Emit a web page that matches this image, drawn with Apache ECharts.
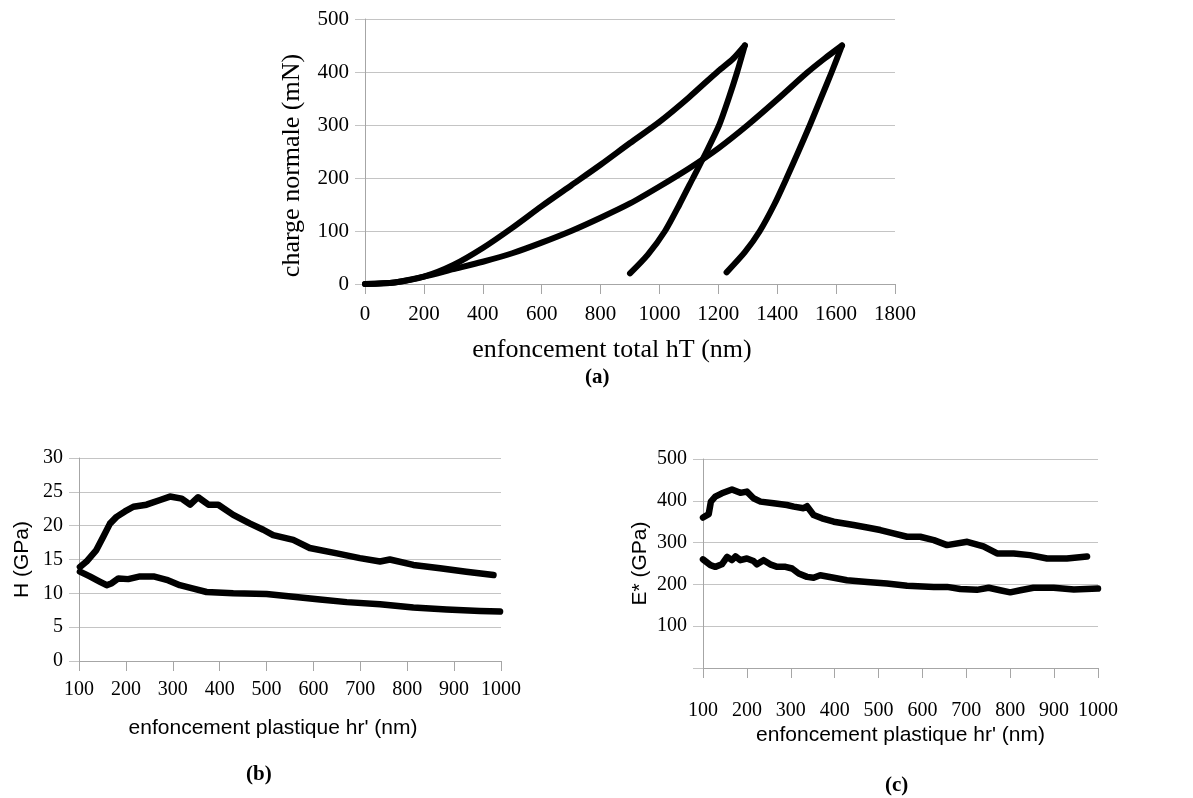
<!DOCTYPE html>
<html>
<head>
<meta charset="utf-8">
<script src="https://cdn.jsdelivr.net/npm/echarts@6/dist/echarts.min.js"></script>
<style>
  html, body { margin: 0; padding: 0; background: #fff; }
  #chart { width: 1193px; height: 798px; }
</style>
</head>
<body>
<div id="chart"></div>
<script>
// (a) charge normale vs enfoncement total : [hT (nm), P (mN)]
const load1 = [[0,0],[100,3],[200,14],[300,36],[400,68],[500,106],[600,147],[700,186],[800,225],[900,266],[1000,306],[1100,352],[1200,402],[1250,425],[1290,450]];
const unload1 = [[1290,450],[1264,400],[1235,350],[1203,300],[1160,250],[1114,200],[1068,150],[1019,100],[960,55],[900,20]];
const load2 = [[0,0],[100,3],[200,14],[300,28],[400,42],[500,58],[600,78],[700,100],[800,125],[900,152],[1000,184],[1100,218],[1200,256],[1300,300],[1400,348],[1500,398],[1560,425],[1620,450]];
const unload2 = [[1620,450],[1585,400],[1548,350],[1511,300],[1472,250],[1432,200],[1390,150],[1341,100],[1290,60],[1228,22]];

// (b) H (GPa) vs hr' (nm)
const hUpper = [[102,13.9],[116,14.7],[137,16.4],[152,18.4],[166,20.3],[180,21.3],[198,22.1],[216,22.8],[244,23.1],[273,23.8],[294,24.3],[319,24.0],[337,23.1],[354,24.2],[376,23.1],[397,23.1],[429,21.6],[465,20.3],[493,19.4],[514,18.6],[557,17.9],[592,16.7],[650,15.9],[699,15.2],[742,14.7],[763,15.0],[813,14.2],[870,13.7],[926,13.2],[984,12.7]];
const hLower = [[102,13.2],[123,12.5],[145,11.7],[159,11.2],[170,11.5],[184,12.2],[205,12.1],[230,12.5],[259,12.5],[287,12.0],[315,11.2],[344,10.7],[372,10.2],[429,10.0],[500,9.9],[557,9.5],[614,9.1],[671,8.7],[742,8.4],[813,7.9],[884,7.6],[955,7.4],[998,7.3]];

// (c) E* (GPa) vs hr' (nm)
const eUpper = [[100,360],[113,368],[118,398],[128,410],[143,418],[166,427],[185,419],[200,422],[215,406],[231,398],[261,394],[291,390],[307,386],[329,382],[337,387],[352,366],[371,358],[398,350],[443,342],[474,336],[504,330],[534,322],[565,314],[595,314],[626,306],[656,294],[702,302],[739,291],[770,274],[808,274],[845,270],[884,262],[929,262],[975,267]];
const eLower = [[100,260],[117,246],[128,242],[143,248],[155,266],[166,258],[174,267],[185,258],[200,262],[215,256],[223,248],[238,258],[253,248],[269,242],[288,242],[303,238],[318,226],[337,218],[352,216],[367,222],[398,216],[428,210],[474,206],[519,202],[565,197],[626,194],[656,194],[686,189],[724,187],[751,192],[777,186],[800,181],[823,186],[853,192],[899,192],[945,188],[1000,190]];

const serif = 'Liberation Serif';
const sans = 'Liberation Sans';
const gridGray = '#c4c4c4';
const axisGray = '#a6a6a6';

function xAx(gridIndex, min, max, interval, name, fontFamily, nameSize, labelSize, nameGap, margin, shift) {
  return {
    type: 'value', gridIndex, min, max, interval,
    name, nameLocation: 'middle', nameGap,
    nameTextStyle: { fontFamily, fontSize: nameSize, color: '#000', padding: [0, shift, 0, 0] },
    axisLine: { show: true, lineStyle: { color: axisGray, width: 1 } },
    axisTick: { show: true, length: 10, lineStyle: { color: axisGray } },
    axisLabel: { fontFamily: serif, fontSize: labelSize, color: '#000', margin, formatter: v => String(v) },
    splitLine: { show: false }
  };
}
function yAx(gridIndex, min, max, interval, name, fontFamily, nameSize, labelSize, nameGap, hideZero, shift) {
  return {
    type: 'value', gridIndex, min, max, interval,
    name, nameLocation: 'middle', nameGap, nameRotate: 90,
    nameTextStyle: { fontFamily, fontSize: nameSize, color: '#000', padding: [0, shift, 0, 0] },
    axisLine: { show: true, lineStyle: { color: axisGray, width: 1 } },
    axisTick: { show: true, length: 10, lineStyle: { color: gridGray } },
    axisLabel: {
      fontFamily: serif, fontSize: labelSize, color: '#000', margin: 16,
      formatter: v => (hideZero && v === 0) ? '' : String(v)
    },
    splitLine: { show: true, lineStyle: { color: gridGray, width: 1 } }
  };
}
function curve(data, xi, smooth, width) {
  return {
    type: 'line', data, xAxisIndex: xi, yAxisIndex: xi,
    showSymbol: false, smooth, silent: true,
    lineStyle: { color: '#000', width, cap: 'round', join: 'round' }
  };
}

const chart = echarts.init(document.getElementById('chart'));
chart.setOption({
  animation: false,
  backgroundColor: '#fff',
  grid: [
    { left: 365, right: 298, top: 19, bottom: 514 },
    { left: 79, right: 692, top: 458, bottom: 137 },
    { left: 703, right: 95, top: 459, bottom: 130 }
  ],
  xAxis: [
    xAx(0, 0, 1800, 200, 'enfoncement total hT (nm)', serif, 26, 21, 53, 20, 36),
    xAx(1, 100, 1000, 100, "enfoncement plastique hr' (nm)", sans, 21, 20, 57, 19, 34),
    xAx(2, 100, 1000, 100, "enfoncement plastique hr' (nm)", sans, 21, 20, 57, 33, 0)
  ],
  yAxis: [
    yAx(0, 0, 500, 100, 'charge normale (mN)', serif, 26, 21, 60, false, 28),
    yAx(1, 0, 30, 5, 'H (GPa)', sans, 21, 20, 46, false, 0),
    yAx(2, 0, 500, 100, 'E* (GPa)', sans, 21, 20, 52, true, 0)
  ],
  series: [
    curve(load1, 0, 0.25, 6),
    curve(unload1, 0, 0.25, 6),
    curve(load2, 0, 0.25, 6),
    curve(unload2, 0, 0.25, 6),
    curve(hUpper, 1, false, 6.5),
    curve(hLower, 1, false, 6.5),
    curve(eUpper, 2, false, 6.5),
    curve(eLower, 2, false, 6.5)
  ],
  graphic: [
    { type: 'text', left: 585, top: 367, style: { text: '(a)', font: 'bold 21px "Liberation Serif"', fill: '#000' } },
    { type: 'text', left: 246, top: 764, style: { text: '(b)', font: 'bold 21px "Liberation Serif"', fill: '#000' } },
    { type: 'text', left: 885, top: 775, style: { text: '(c)', font: 'bold 21px "Liberation Serif"', fill: '#000' } }
  ]
});
</script>
</body>
</html>
